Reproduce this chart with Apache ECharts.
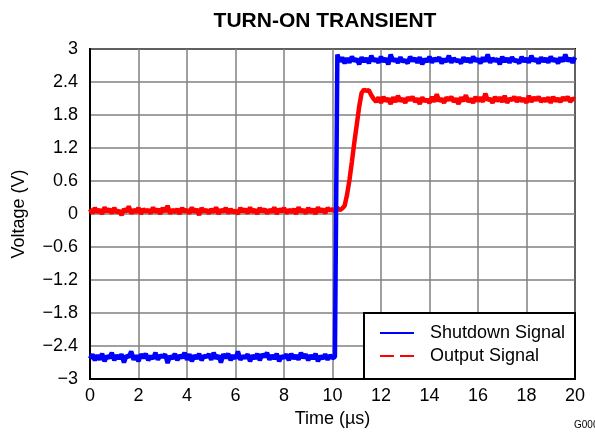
<!DOCTYPE html>
<html><head><meta charset="utf-8">
<script src="https://cdn.jsdelivr.net/npm/echarts@6/dist/echarts.min.js"></script>
<style>html,body{margin:0;padding:0;background:#fff}#c{width:595px;height:433px}</style>
</head><body><div id="c"></div>
<script>
// Sampling grid (µs)
const T_START = 0, T_STEP = 0.1;
const xTicks = [0,2,4,6,8,10,12,14,16,18,20];
const yTicks = [-3,-2.4,-1.8,-1.2,-0.6,0,0.6,1.2,1.8,2.4,3];
const seriesNames = ['Shutdown Signal','Output Signal'];

// Shutdown signal (V), one sample per 0.1 µs
const shutdownLow = [
-2.63,-2.55,-2.66,-2.57,-2.65,-2.54,-2.68,-2.58,-2.62,-2.52,
-2.66,-2.57,-2.63,-2.55,-2.7,-2.58,-2.6,-2.5,-2.65,-2.57,
-2.68,-2.55,-2.62,-2.54,-2.66,-2.58,-2.63,-2.52,-2.65,-2.57,
-2.6,-2.55,-2.71,-2.58,-2.63,-2.54,-2.66,-2.57,-2.62,-2.52,
-2.65,-2.55,-2.68,-2.57,-2.63,-2.54,-2.66,-2.58,-2.6,-2.55,
-2.65,-2.52,-2.63,-2.57,-2.7,-2.55,-2.62,-2.54,-2.66,-2.57,
-2.63,-2.5,-2.65,-2.58,-2.62,-2.55,-2.68,-2.57,-2.63,-2.54,
-2.66,-2.55,-2.6,-2.52,-2.65,-2.57,-2.63,-2.54,-2.68,-2.58,
-2.62,-2.55,-2.66,-2.54,-2.63,-2.57,-2.65,-2.52,-2.62,-2.55,
-2.66,-2.57,-2.63,-2.54,-2.68,-2.58,-2.63,-2.55,-2.65,-2.57,
-2.62,-2.6];
const shutdownHigh = [
2.9,2.77,2.85,2.74,2.83,2.75,2.86,2.78,2.82,2.72,
2.85,2.77,2.83,2.74,2.88,2.78,2.82,2.75,2.86,2.77,
2.83,2.72,2.9,2.78,2.82,2.75,2.85,2.77,2.8,2.74,
2.86,2.78,2.83,2.75,2.85,2.72,2.82,2.77,2.86,2.75,
2.83,2.78,2.85,2.74,2.82,2.77,2.88,2.75,2.83,2.78,
2.8,2.74,2.85,2.77,2.83,2.75,2.86,2.78,2.82,2.74,
2.85,2.77,2.9,2.75,2.83,2.78,2.82,2.72,2.86,2.77,
2.83,2.75,2.85,2.78,2.8,2.74,2.86,2.77,2.83,2.75,
2.88,2.78,2.82,2.74,2.85,2.77,2.83,2.75,2.86,2.78,
2.82,2.74,2.85,2.77,2.9,2.78,2.83,2.75,2.85];

// Output signal (V)
const outputLow = [
0.09,0.01,0.11,0.03,0.08,0,0.12,0.04,0.09,0.01,
0.11,0.03,0.06,-0.02,0.09,0.04,0.14,0.01,0.08,0.03,
0.11,0,0.09,0.04,0.08,0.01,0.12,0.03,0.09,0,
0.11,0.04,0.15,0.01,0.08,0.03,0.09,0,0.11,0.04,
0.08,0.01,0.12,0.03,0.09,-0.02,0.11,0.04,0.08,0.01,
0.09,0.03,0.12,0,0.08,0.04,0.11,0.01,0.09,0.03,
0.06,0,0.11,0.04,0.09,0.01,0.12,0.03,0.08,0,
0.11,0.04,0.09,0.01,0.08,0.03,0.12,0,0.09,0.04,
0.11,0.01,0.08,0.03,0.09,0,0.12,0.04,0.08,0.01,
0.11,0.03,0.09,0,0.12,0.04,0.09,0.01,0.11,0.06,
0.09,0.05,0.11,0.07,0.1];
const outputRise = [0.15,0.35,0.62,0.95,1.3,1.62,1.95,2.2,2.26,2.24,2.25,2.16,2.09];
const outputHigh = [
2.04,2.12,2.02,2.13,2.05,2.1,2.0,2.12,2.04,2.15,
2.05,2.1,2.02,2.12,2.07,2.13,2.04,2.1,2.0,2.12,
2.05,2.08,2.02,2.13,2.04,2.18,2.05,2.1,2.02,2.12,
2.07,2.13,2.04,2.1,2.0,2.12,2.05,2.16,2.04,2.1,
2.02,2.13,2.05,2.12,2.04,2.19,2.07,2.1,2.02,2.13,
2.05,2.12,2.04,2.15,2.02,2.1,2.07,2.13,2.04,2.12,
2.05,2.1,2.02,2.15,2.04,2.12,2.07,2.13,2.04,2.1,
2.05,2.12,2.02,2.13,2.05,2.1,2.04,2.12,2.07,2.13,
2.04,2.1,2.08];

const shutdown = shutdownLow.concat(shutdownHigh);
const output = outputLow.concat(outputRise, outputHigh);
const toPairs = arr => arr.map((v, i) => [+(T_START + i * T_STEP).toFixed(2), v]);

const FONT = 'Liberation Sans, Arial, sans-serif';
const fmtY = v => String(Math.round(v * 10) / 10).replace('-', '\u2212');

const chart = echarts.init(document.getElementById('c'));
chart.setOption({
  animation: false,
  backgroundColor: '#fff',
  title: {
    text: 'TURN-ON TRANSIENT', left: 320, textAlign: 'center', top: 6,
    textStyle: { fontFamily: FONT, fontSize: 21, fontWeight: 'bold', color: '#000' }
  },
  grid: { left: 90, right: 20, top: 49, bottom: 54, show: true, borderColor: '#000', borderWidth: 2, containLabel: false },
  xAxis: {
    type: 'value', min: 0, max: 20, interval: 2,
    name: 'Time (\u00b5s)', nameLocation: 'middle', nameGap: 27,
    nameTextStyle: { fontFamily: FONT, fontSize: 18, color: '#000' },
    axisLine: { show: true, onZero: false, lineStyle: { color: '#000', width: 2 } },
    axisTick: { show: false },
    axisLabel: { fontFamily: FONT, fontSize: 18, color: '#000', margin: 8 },
    splitLine: { show: true, lineStyle: { color: '#808080', width: 1.5 } }
  },
  yAxis: {
    type: 'value', min: -3, max: 3, interval: 0.6,
    name: 'Voltage (V)', nameLocation: 'middle', nameGap: 62,
    nameTextStyle: { fontFamily: FONT, fontSize: 18, color: '#000' },
    axisLine: { show: true, onZero: false, lineStyle: { color: '#000', width: 2 } },
    axisTick: { show: false },
    axisLabel: { fontFamily: FONT, fontSize: 18, color: '#000', margin: 12, formatter: fmtY },
    splitLine: { show: true, lineStyle: { color: '#808080', width: 1.5 } }
  },
  series: [
    { name: seriesNames[0], type: 'line', data: toPairs(shutdown), showSymbol: false, symbol: 'none',
      lineStyle: { color: '#0000ff', width: 4.5 }, z: 3 },
    { name: seriesNames[1], type: 'line', data: toPairs(output), showSymbol: false, symbol: 'none',
      lineStyle: { color: '#ff0000', width: 4.5 }, z: 2 }
  ],
  graphic: [
    { type: 'rect', shape: { x: 364, y: 313, width: 211, height: 66 },
      style: { fill: '#fff', stroke: '#000', lineWidth: 2 }, z: 10 },
    { type: 'line', shape: { x1: 380, y1: 333, x2: 414, y2: 333 },
      style: { stroke: '#0000ff', lineWidth: 2 }, z: 11 },
    { type: 'line', shape: { x1: 380, y1: 356, x2: 414, y2: 356 },
      style: { stroke: '#ff0000', lineWidth: 2, lineDash: [14, 6] }, z: 11 },
    { type: 'text', x: 430, y: 333, style: { text: seriesNames[0], font: '18px ' + FONT, fill: '#000', textVerticalAlign: 'middle' }, z: 11 },
    { type: 'text', x: 430, y: 356, style: { text: seriesNames[1], font: '18px ' + FONT, fill: '#000', textVerticalAlign: 'middle' }, z: 11 },
    { type: 'text', x: 574, y: 425, style: { text: 'G000', font: '10px ' + FONT, fill: '#000', textVerticalAlign: 'middle' }, z: 11 }
  ]
});
</script>
</body></html>
